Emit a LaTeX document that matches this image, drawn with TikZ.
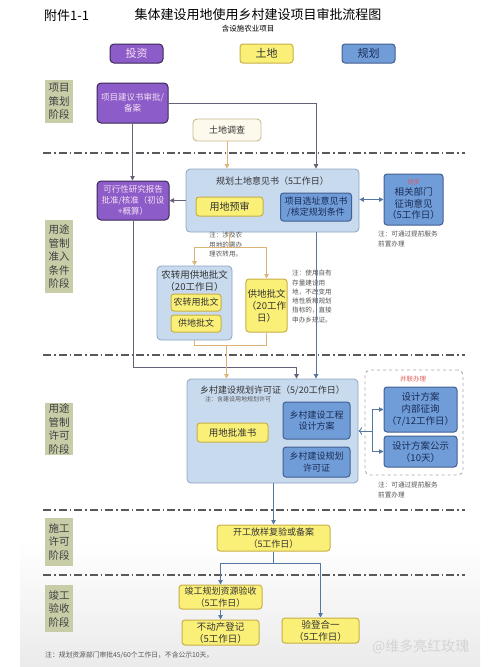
\documentclass[tikz,border=0pt]{standalone}
\usepackage{fontspec}
\setmainfont{Noto Sans CJK SC}
\usetikzlibrary{arrows.meta,calc}

\definecolor{invfill}{RGB}{140,92,200}
\definecolor{invborder}{RGB}{60,40,85}
\definecolor{invtext}{RGB}{245,225,245}
\definecolor{landfill}{RGB}{250,240,120}
\definecolor{landborder}{RGB}{200,175,70}
\definecolor{planfill}{RGB}{112,156,216}
\definecolor{planborder}{RGB}{65,95,145}
\definecolor{plantext}{RGB}{25,45,85}
\definecolor{groupfill}{RGB}{200,218,238}
\definecolor{groupborder}{RGB}{140,165,195}
\definecolor{stagebg}{RGB}{200,205,168}
\definecolor{surveyfill}{RGB}{253,249,236}
\definecolor{surveyborder}{RGB}{200,185,145}
\definecolor{invline}{RGB}{105,95,120}
\definecolor{landline}{RGB}{220,180,120}
\definecolor{planline}{RGB}{85,120,160}
\definecolor{notegray}{RGB}{85,85,85}
\definecolor{redlabel}{RGB}{225,90,90}

\begin{document}
\begin{tikzpicture}[x=1pt,y=1pt,yscale=-1,
    stage/.style={fill=stagebg,minimum width=28pt,inner sep=1pt,align=center,text=black!75,font=\fontsize{10.5}{13.5}\selectfont},
    invbox/.style={draw=invborder,line width=1pt,fill=invfill,rounded corners=4pt,text=invtext,align=center,inner sep=1pt,font=\fontsize{8.5}{11}\selectfont},
    landbox/.style={draw=landborder,line width=1pt,fill=landfill,rounded corners=3pt,text=black!80,align=center,inner sep=1pt,font=\fontsize{9}{11.5}\selectfont},
    planbox/.style={draw=planborder,line width=1pt,fill=planfill,rounded corners=3pt,text=plantext,align=center,inner sep=1pt,font=\fontsize{9}{11.5}\selectfont},
    groupbox/.style={draw=groupborder,line width=0.8pt,fill=groupfill,rounded corners=4pt,inner sep=0pt},
    grouptitle/.style={text=black!80,inner sep=0pt,align=center,font=\fontsize{9}{11.5}\selectfont},
    note/.style={anchor=north west,text=notegray,inner sep=0pt,align=left,font=\fontsize{6.6}{9.3}\selectfont},
    sepline/.style={draw=black!65,line width=1.1pt,dash pattern=on 8pt off 3pt on 1.5pt off 3pt},
    invline/.style={draw=invline,line width=0.9pt},
    landline/.style={draw=landline,line width=0.9pt},
    planline/.style={draw=planline,line width=0.9pt},
    invarrow/.style={invline,-{Triangle[length=4.5pt,width=4.5pt]}},
    landarrow/.style={landline,-{Triangle[length=4.5pt,width=4.5pt]}},
    planarrow/.style={planline,-{Triangle[length=4.5pt,width=4.5pt]}}]
\useasboundingbox (0,0) rectangle (500,667);
\shade[top color=white,bottom color=black!8] (20,540) rectangle (480,667);

% title and legend
\node[anchor=west,inner sep=0pt,font=\fontsize{13}{15}\selectfont] (annex) at (44,16) {附件1-1};
\node[inner sep=0pt,font=\fontsize{13}{15}\selectfont] (title) at (258,15) {集体建设用地使用乡村建设项目审批流程图};
\node[inner sep=0pt,font=\fontsize{7.5}{9}\selectfont] (subtitle) at (248,29) {含设施农业项目};
\node[invbox,minimum width=53pt,minimum height=19pt,font=\fontsize{11}{13}\selectfont] (leginv) at (136.5,53.5) {投资};
\node[landbox,minimum width=53pt,minimum height=19pt,font=\fontsize{11}{13}\selectfont] (legland) at (266.5,53.5) {土地};
\node[planbox,minimum width=53pt,minimum height=19pt,font=\fontsize{11}{13}\selectfont] (legplan) at (368.5,53.5) {规划};

% stages
\node[stage,minimum height=43pt] (stage1) at (59,101.5) {项目\\策划\\阶段};
\node[stage,minimum height=73pt] (stage2) at (59,256.5) {用途\\管制\\准入\\条件\\阶段};
\node[stage,minimum height=52pt] (stage3) at (59,429) {用途\\管制\\许可\\阶段};
\node[stage,minimum height=48pt] (stage4) at (59,542) {施工\\许可\\阶段};
\node[stage,minimum height=47pt] (stage5) at (59,608.5) {竣工\\验收\\阶段};

\foreach \y in {153,355,510,575}
  \draw[sepline] (43,\y) -- (465,\y);

% project planning
\node[invbox,minimum width=71pt,minimum height=40pt] (proposal) at (132.5,103) {项目建议书审批/\\备案};
\node[draw=surveyborder,line width=0.9pt,fill=surveyfill,rounded corners=4pt,minimum width=68pt,minimum height=22pt,inner sep=1pt,text=black!80,font=\fontsize{9}{11}\selectfont] (survey) at (227,130) {土地调查};

% admission conditions
\node[groupbox,minimum width=173pt,minimum height=63pt] (opinion) at (272.5,200.5) {};
\node[grouptitle] (opiniont) at (272.5,181) {规划土地意见书（5工作日）};
\node[landbox,minimum width=67pt,minimum height=19pt,font=\fontsize{10}{12}\selectfont] (predial) at (229.5,206.5) {用地预审};
\node[planbox,minimum width=71pt,minimum height=28pt] (siteopinion) at (316,207) {项目选址意见书\\/核定规划条件};
\node[planbox,minimum width=59pt,minimum height=51pt,font=\fontsize{9.5}{11.5}\selectfont] (consult) at (413.5,199.5) {{\fontsize{6}{7}\selectfont\color{redlabel}同步}\\相关部门\\征询意见\\（5工作日）};
\node[note] (consultnote) at (378,231) {注：可通过提前服务\\前置办理};
\node[invbox,minimum width=72pt,minimum height=39pt] (feasibility) at (133,200.5) {可行性研究报告\\批准/核准（初设\\+概算）};

\node[note] (farmnote) at (209,232) {注：涉及农\\用地的需办\\理农转用。};
\node[groupbox,minimum width=75pt,minimum height=74pt] (conversion) at (194.5,303) {};
\node[grouptitle,font=\fontsize{9.5}{12}\selectfont] (conversiont) at (194.5,281) {农转用供地批文\\（20工作日）};
\node[landbox,minimum width=50pt,minimum height=17pt] (convapproval) at (196,302.5) {农转用批文};
\node[landbox,minimum width=50pt,minimum height=17pt] (supplyapproval) at (196,323.5) {供地批文};
\node[landbox,minimum width=41pt,minimum height=53pt,font=\fontsize{9.5}{12}\selectfont] (supply) at (266.5,305.5) {供地批文\\（20工作\\日）};
\node[note] (stocknote) at (292,270) {注：使用自有\\存量建设用\\地，不改变用\\地性质和规划\\指标的，直接\\申办乡规证。};

% use control permit
\node[groupbox,minimum width=171pt,minimum height=104pt] (permit) at (272.5,431) {};
\node[grouptitle] (permitt) at (272.5,390) {乡村建设规划许可证（5/20工作日）};
\node[note,font=\fontsize{6}{7}\selectfont] (permitnote) at (205,396) {注：含建设用地规划许可};
\node[landbox,minimum width=71pt,minimum height=19pt,font=\fontsize{9.5}{12}\selectfont] (landapproval) at (232.5,432.5) {用地批准书};
\node[planbox,minimum width=67pt,minimum height=37pt] (design) at (316.5,420.5) {乡村建设工程\\设计方案};
\node[planbox,minimum width=67pt,minimum height=30pt] (villagepermit) at (316.5,462) {乡村建设规划\\许可证};
\node[draw=black!35,line width=0.9pt,dashed,rounded corners=5pt,minimum width=98pt,minimum height=105pt] (parallel) at (414,422.5) {};
\node[inner sep=0pt,text=redlabel,font=\fontsize{6.5}{8}\selectfont] (parallelt) at (413,379) {并联办理};
\node[planbox,minimum width=73pt,minimum height=45pt,font=\fontsize{9.5}{12}\selectfont] (consultdesign) at (420.5,409.5) {设计方案\\内部征询\\（7/12工作日）};
\node[planbox,minimum width=73pt,minimum height=31pt,font=\fontsize{9.5}{12}\selectfont] (publicity) at (420.5,451.5) {设计方案公示\\（10天）};
\node[note] (parallelnote) at (378,482) {注：可通过提前服务\\前置办理};

% construction and acceptance
\node[landbox,minimum width=113pt,minimum height=26pt] (startwork) at (273.5,538) {开工放样复验或备案\\（5工作日）};
\node[landbox,minimum width=83pt,minimum height=24pt] (acceptance) at (220.5,597) {竣工规划资源验收\\（5工作日）};
\node[landbox,minimum width=77pt,minimum height=25pt,font=\fontsize{9.5}{12}\selectfont] (realestate) at (220.5,632.5) {不动产登记\\（5工作日）};
\node[landbox,minimum width=77pt,minimum height=25pt,font=\fontsize{9.5}{12}\selectfont] (combined) at (320.5,630.5) {验登合一\\（5工作日）};
\node[anchor=west,inner sep=0pt,text=notegray,font=\fontsize{6.8}{8}\selectfont] (footnote) at (45,655) {注：规划资源部门审批45/60个工作日，不含公示10天。};
\node[anchor=west,inner sep=0pt,text=black!17,font=\fontsize{14}{16}\selectfont] (mark) at (372,647) {@维多亮红玫瑰};

% connectors
\coordinate (permitin) at ($(permit.north)+(24,0)$);
\coordinate (landin) at ($(permit.north)+(-46,0)$);
\draw[invarrow] (proposal.east) -| (opinion.north -| siteopinion.north);
\draw[invarrow] (proposal.south) -- (proposal.south |- feasibility.north);
\draw[landarrow] (survey.south) -- (survey.south |- opinion.north);
\draw[invarrow] (opinion.west |- feasibility) -- (feasibility.east);
\draw[planline,{Triangle[length=4.5pt,width=4.5pt]}-{Triangle[length=4.5pt,width=4.5pt]}] (opinion.east |- consult) -- (consult.west);
\draw[invarrow] (feasibility.south) |- ($(permitin)+(0,-11)$) -- (permitin);
\draw[landline] (opinion.south -| predial) -- ++(0,15) coordinate (landsplit);
\draw[landarrow] (landsplit) -| (conversion.north);
\draw[landarrow] (landsplit) -| (supply.north);
\draw[landline] (conversion.south) -- ++(0,5) coordinate (landjoin) -| (supply.south);
\draw[landarrow] (landjoin -| landin) -- (landin);
\draw[planarrow] (opinion.south -| siteopinion) -- (permit.north -| siteopinion);
\draw[planarrow,<-] (permit.east) -- ++(14,0) coordinate (parsplit);
\draw[planline] (parsplit |- consultdesign) -- (parsplit |- publicity);
\draw[planarrow] (parsplit |- consultdesign) -- (consultdesign.west);
\draw[planarrow] (parsplit |- publicity) -- (publicity.west);
\draw[planarrow] (startwork.north |- permit.south) -- (startwork.north);
\draw[planline] (startwork.south) -- ++(0,12) coordinate (endsplit);
\draw[planarrow] (endsplit) -| (acceptance.north);
\draw[planarrow] (endsplit) -| (combined.north);
\draw[planarrow] (acceptance) -- (realestate);
\end{tikzpicture}
\end{document}
